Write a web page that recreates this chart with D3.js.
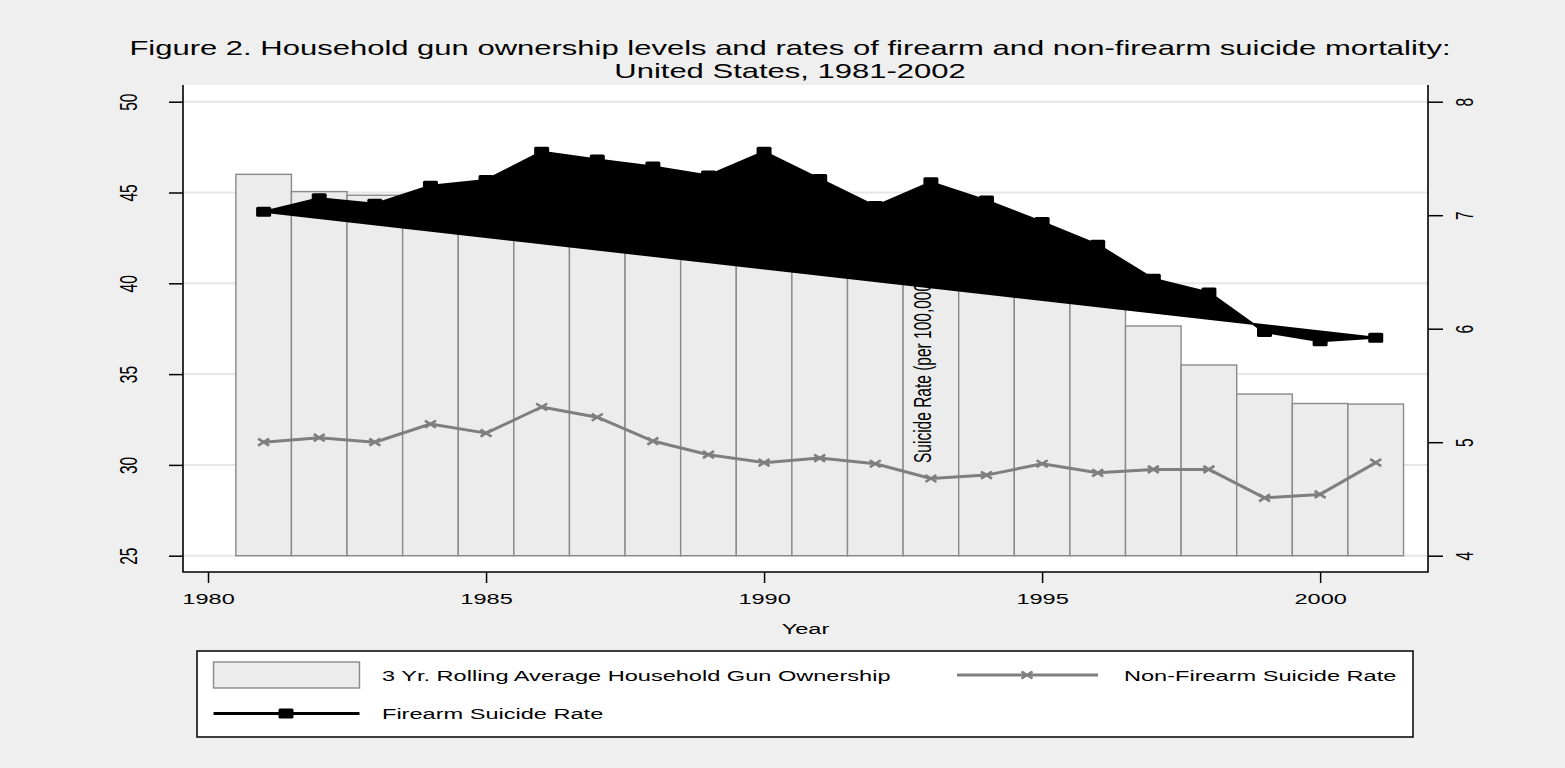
<!DOCTYPE html>
<html>
<head>
<meta charset="utf-8">
<script src="https://cdn.jsdelivr.net/npm/d3@7"></script>
<style>
  html, body { margin: 0; padding: 0; background: #efefef; }
  svg { display: block; }
  text { font-family: "Liberation Sans", Arial, Helvetica, sans-serif; fill: #000; }
</style>
</head>
<body>
<svg id="chart" width="1565" height="768"></svg>
<script>
// ---------------- data ----------------
const titleLines = [
  "Figure 2. Household gun ownership levels and rates of firearm and non-firearm suicide mortality:",
  "United States, 1981-2002"
];
const years = [1981, 1982, 1983, 1984, 1985, 1986, 1987, 1988, 1989, 1990, 1991,
               1992, 1993, 1994, 1995, 1996, 1997, 1998, 1999, 2000, 2001];
const gunOwnership = [46.0, 45.05, 44.85, 44.5, 44.1, 43.7, 43.4, 43.1, 42.7, 42.3, 41.9,
                      41.6, 41.2, 40.8, 40.3, 39.6, 37.65, 35.5, 33.9, 33.38, 33.35];
const firearmRate = [7.03, 7.15, 7.10, 7.26, 7.31, 7.56, 7.49, 7.43, 7.35, 7.56, 7.32,
                     7.08, 7.29, 7.13, 6.94, 6.74, 6.44, 6.32, 5.97, 5.89, 5.92];
const nonFirearmRate = [5.00, 5.04, 5.00, 5.16, 5.08, 5.31, 5.22, 5.01, 4.89, 4.82, 4.86,
                        4.81, 4.68, 4.71, 4.81, 4.73, 4.76, 4.76, 4.51, 4.54, 4.82];
const xTicks = [1980, 1985, 1990, 1995, 2000];
const leftTicks = [25, 30, 35, 40, 45, 50];
const rightTicks = [4, 5, 6, 7, 8];
const xTitle = "Year";
const innerLabel = "Suicide Rate (per 100,000)";
const legendLabels = ["3 Yr. Rolling Average Household Gun Ownership",
                      "Non-Firearm Suicide Rate",
                      "Firearm Suicide Rate"];

// ---------------- layout ----------------
const L = 183, R = 1428, T = 85, B = 572;
const SX = 1.52;          // horizontal stretch of glyphs
const FS = 15.5;          // label font size
const FT = 20;            // title font size
const SXT = 1.55;         // title stretch
const GRAY = "#7f7f7f";

const svg = d3.select("#chart");
svg.append("rect").attr("width", 1565).attr("height", 768).attr("fill", "#efefef");

const x = d3.scaleLinear().domain([1979.55, 2001.94]).range([L, R]);
const yL = d3.scaleLinear().domain([25, 50]).range([555.7, 101.7]);
const yR = d3.scaleLinear().domain([4, 8]).range([555.7, 101.7]);

// plot region
svg.append("rect").attr("x", L).attr("y", T).attr("width", R - L).attr("height", B - T).attr("fill", "#fff");

// gridlines (left axis)
svg.append("g").selectAll("line").data(leftTicks).join("line")
  .attr("x1", L).attr("x2", R)
  .attr("y1", d => yL(d)).attr("y2", d => yL(d))
  .attr("stroke", "#e6e6e6").attr("stroke-width", 2);

// bars
svg.append("g").selectAll("rect").data(years).join("rect")
  .attr("x", d => x(d - 0.5))
  .attr("width", d => x(d + 0.5) - x(d - 0.5))
  .attr("y", (d, i) => yL(gunOwnership[i]))
  .attr("height", (d, i) => yL(25) - yL(gunOwnership[i]))
  .attr("fill", "#ececec").attr("stroke", "#8a8a8a").attr("stroke-width", 1.4);

// inner rotated label (drawn under firearm area)
svg.append("text")
  .attr("transform", `translate(931,463) scale(${SX},1) rotate(-90)`)
  .attr("font-size", FS).text(innerLabel);

// non-firearm line
const lineR = d3.line().x((d, i) => x(years[i])).y(d => yR(d));
svg.append("path").datum(nonFirearmRate)
  .attr("d", lineR).attr("fill", "none").attr("stroke", GRAY).attr("stroke-width", 3)
  .attr("stroke-linejoin", "round");

function xMarker(g, cx, cy) {
  g.append("path")
    .attr("d", `M${cx - 5.5},${cy - 3.5}L${cx + 5.5},${cy + 3.5}M${cx - 5.5},${cy + 3.5}L${cx + 5.5},${cy - 3.5}`)
    .attr("stroke", GRAY).attr("stroke-width", 2.6).attr("fill", "none");
}
const nfG = svg.append("g");
nonFirearmRate.forEach((v, i) => xMarker(nfG, x(years[i]), yR(v)));

// firearm series: closed filled polygon
svg.append("path").datum(firearmRate)
  .attr("d", d => lineR(d) + "Z")
  .attr("fill", "#000").attr("stroke", "#000").attr("stroke-width", 2)
  .attr("stroke-linejoin", "round");
svg.append("g").selectAll("rect").data(firearmRate).join("rect")
  .attr("x", (d, i) => x(years[i]) - 7.5).attr("y", d => yR(d) - 5)
  .attr("width", 15).attr("height", 10).attr("rx", 1.5).attr("fill", "#000");

// axes
const axL = svg.append("g").attr("transform", `translate(${L},0)`)
  .call(d3.axisLeft(yL).tickValues(leftTicks).tickSize(14).tickFormat(d3.format("d")));
axL.select(".domain").remove();
axL.selectAll(".tick line").attr("stroke", "#000").attr("stroke-width", 1.5);
axL.selectAll(".tick text").attr("x", null).attr("dy", null).attr("text-anchor", "middle")
  .attr("font-size", FS).attr("font-family", null)
  .attr("transform", `translate(-46,0) scale(${SX},1) rotate(-90)`);

const axR = svg.append("g").attr("transform", `translate(${R},0)`)
  .call(d3.axisRight(yR).tickValues(rightTicks).tickSize(15).tickFormat(d3.format("d")));
axR.select(".domain").remove();
axR.selectAll(".tick line").attr("stroke", "#000").attr("stroke-width", 1.5);
axR.selectAll(".tick text").attr("x", null).attr("dy", null).attr("text-anchor", "middle")
  .attr("font-size", FS).attr("font-family", null)
  .attr("transform", `translate(45,0) scale(${SX},1) rotate(-90)`);

const axB = svg.append("g").attr("transform", `translate(0,${B})`)
  .call(d3.axisBottom(x).tickValues(xTicks).tickSize(11).tickFormat(d3.format("d")));
axB.select(".domain").remove();
axB.selectAll(".tick line").attr("stroke", "#000").attr("stroke-width", 1.5);
axB.selectAll(".tick text").attr("y", null).attr("dy", null)
  .attr("font-size", FS).attr("font-family", null)
  .attr("transform", `translate(0,32) scale(${SX},1)`);

// axis lines
svg.append("path").attr("d", `M${L},${T}V${B}H${R}V${T}`)
  .attr("fill", "none").attr("stroke", "#000").attr("stroke-width", 1.6);

// x title
svg.append("text").attr("transform", `translate(${(L + R) / 2},634) scale(${SX},1)`)
  .attr("text-anchor", "middle").attr("font-size", FS).text(xTitle);

// title
svg.append("g").selectAll("text").data(titleLines).join("text")
  .attr("transform", (d, i) => `translate(790,${55 + i * 22.6}) scale(${SXT},1)`)
  .attr("text-anchor", "middle").attr("font-size", FT).text(d => d);

// legend
const lg = svg.append("g");
lg.append("rect").attr("x", 197).attr("y", 651).attr("width", 1413 - 197).attr("height", 737 - 651)
  .attr("fill", "#fff").attr("stroke", "#000").attr("stroke-width", 1.5);
lg.append("rect").attr("x", 213.5).attr("y", 662).attr("width", 146).attr("height", 26)
  .attr("fill", "#ececec").attr("stroke", "#8a8a8a").attr("stroke-width", 1.4);
lg.append("text").attr("transform", `translate(382,680.5) scale(${SX},1)`)
  .attr("font-size", FS).text(legendLabels[0]);
lg.append("line").attr("x1", 957).attr("x2", 1098).attr("y1", 675).attr("y2", 675)
  .attr("stroke", GRAY).attr("stroke-width", 3);
xMarker(lg, 1027, 675);
lg.append("text").attr("transform", `translate(1124,680.5) scale(${SX},1)`)
  .attr("font-size", FS).text(legendLabels[1]);
lg.append("line").attr("x1", 213.5).attr("x2", 359.5).attr("y1", 713.5).attr("y2", 713.5)
  .attr("stroke", "#000").attr("stroke-width", 3);
lg.append("rect").attr("x", 286 - 7.5).attr("y", 713.5 - 5).attr("width", 15).attr("height", 10)
  .attr("rx", 1.5).attr("fill", "#000");
lg.append("text").attr("transform", `translate(382,719) scale(${SX},1)`)
  .attr("font-size", FS).text(legendLabels[2]);
</script>
</body>
</html>
